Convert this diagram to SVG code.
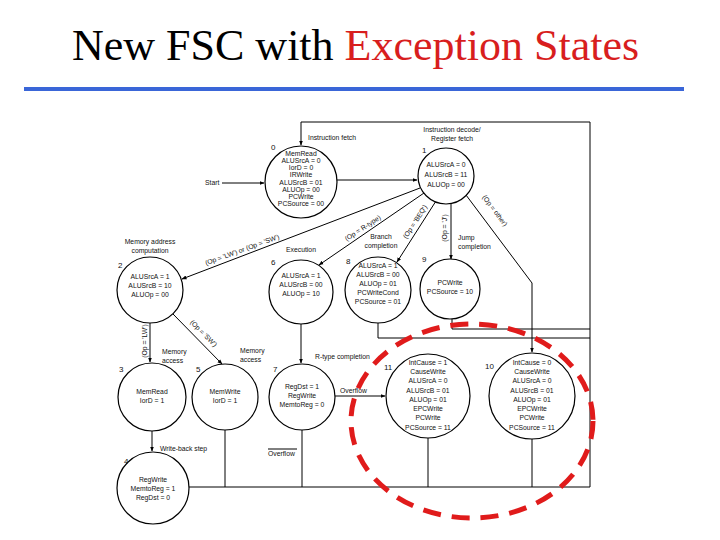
<svg xmlns="http://www.w3.org/2000/svg" width="720" height="540" viewBox="0 0 720 540">
<defs>
<marker id="ar" viewBox="0 0 10 10" refX="9" refY="5" markerWidth="5" markerHeight="5" orient="auto" markerUnits="userSpaceOnUse"><path d="M0,1 L10,5 L0,9 z" fill="#000"/></marker>
<style>
.st{fill:#fff;stroke:#000;stroke-width:1.2}
.t{font-family:"Liberation Sans",Arial,sans-serif;font-size:6.8px;fill:#111;text-anchor:middle}
.l{font-family:"Liberation Sans",Arial,sans-serif;font-size:6.8px;fill:#111}
.n{font-family:"Liberation Sans",Arial,sans-serif;font-size:8px;fill:#111}
.c{fill:none;stroke:#000;stroke-width:1}
.a{fill:none;stroke:#000;stroke-width:1;marker-end:url(#ar)}
</style>
</defs>
<rect width="720" height="540" fill="#fff"/>
<text x="72" y="60" font-family="'Liberation Serif','Times New Roman',serif" font-size="44" fill="#000">New FSC with <tspan fill="#d81e1e">Exception States</tspan></text>
<rect x="24" y="87" width="660" height="4" fill="#3a66d8"/>

<g id="connectors">
<path class="a" d="M222,183 L264,183"/>
<path class="a" d="M337,180 L417,180"/>
<path class="a" d="M590,487 L590,122 L301,122 L301,145"/>
<path class="a" d="M420,188 L182,279"/>
<path class="a" d="M424,193 L319,265"/>
<path class="a" d="M436,201 L397,262"/>
<path class="a" d="M451,203 L451,259"/>
<path class="a" d="M466,195 L532,283 L532,352"/>
<path class="a" d="M150,323 L150,362"/>
<path class="a" d="M173,314 L222,364"/>
<path class="a" d="M301,324 L301,363"/>
<path class="a" d="M152,431 L152,451"/>
<path class="a" d="M335,396 L385,396"/>
<path class="c" d="M225,430 L225,487"/>
<path class="c" d="M302,430 L302,487"/>
<path class="c" d="M189,487 L590,487"/>
<path class="c" d="M428,438 L428,487"/>
<path class="c" d="M532,439 L532,487"/>
<path class="c" d="M378,322 L378,338 L590,338"/>
<path class="c" d="M452,319 L452,329 L590,329"/>
<text class="l" x="205" y="185">Start</text>
<text class="l" x="308" y="140">Instruction fetch</text>
<text class="t" transform="translate(243,252) rotate(-20)">(Op = 'LW') or (Op = 'SW')</text>
<text class="t" transform="translate(364,230) rotate(-33)">(Op = R-type)</text>
<text class="t" transform="translate(417,223) rotate(-57)">(Op = 'BEQ')</text>
<text class="t" transform="translate(447,228) rotate(-90)">(Op = 'J')</text>
<text class="t" transform="translate(493,212) rotate(53)">(Op = other)</text>
<text class="t" transform="translate(147,341) rotate(-90)">(Op = 'LW')</text>
<text class="t" transform="translate(202,335) rotate(45)">(Op = 'SW')</text>
<text class="l" x="162" y="354">Memory</text>
<text class="l" x="162" y="363">access</text>
<text class="l" x="240" y="353">Memory</text>
<text class="l" x="240" y="362">access</text>
<text class="l" x="315" y="359">R-type completion</text>
<text class="l" x="340" y="393">Overflow</text>
<text class="l" x="268" y="456">Overflow</text>
<path class="c" d="M268,449 L297,449" stroke-width="0.7"/>
<text class="l" x="160" y="451">Write-back step</text>
</g>

<g id="s0">
<circle class="st" cx="301" cy="182" r="36"/>
<text class="n" x="271" y="150">0</text>
<text class="t" x="301" y="156">MemRead</text>
<text class="t" x="301" y="163">ALUSrcA = 0</text>
<text class="t" x="301" y="170">IorD = 0</text>
<text class="t" x="301" y="177">IRWrite</text>
<text class="t" x="301" y="185">ALUSrcB = 01</text>
<text class="t" x="301" y="192">ALUOp = 00</text>
<text class="t" x="301" y="199">PCWrite</text>
<text class="t" x="301" y="206">PCSource = 00</text>
</g>
<g id="s1">
<circle class="st" cx="446" cy="176" r="28"/>
<text class="n" x="422" y="153">1</text>
<text class="t" x="452" y="132">Instruction decode/</text>
<text class="t" x="452" y="141">Register fetch</text>
<text class="t" x="446" y="167">ALUSrcA = 0</text>
<text class="t" x="446" y="177">ALUSrcB = 11</text>
<text class="t" x="446" y="187">ALUOp = 00</text>
</g>
<g id="s2">
<circle class="st" cx="150" cy="290" r="33"/>
<text class="n" x="118" y="268">2</text>
<text class="t" x="150" y="244">Memory address</text>
<text class="t" x="150" y="253">computation</text>
<text class="t" x="150" y="279">ALUSrcA = 1</text>
<text class="t" x="150" y="288">ALUSrcB = 10</text>
<text class="t" x="150" y="297">ALUOp = 00</text>
</g>
<g id="s6">
<circle class="st" cx="301" cy="292" r="32"/>
<text class="n" x="271" y="265">6</text>
<text class="t" x="301" y="252">Execution</text>
<text class="t" x="301" y="278">ALUSrcA = 1</text>
<text class="t" x="301" y="287">ALUSrcB = 00</text>
<text class="t" x="301" y="296">ALUOp = 10</text>
</g>
<g id="s8">
<circle class="st" cx="378" cy="290" r="33"/>
<text class="n" x="346" y="264">8</text>
<text class="t" x="381" y="239">Branch</text>
<text class="t" x="381" y="248">completion</text>
<text class="t" x="378" y="268">ALUSrcA = 1</text>
<text class="t" x="378" y="277">ALUSrcB = 00</text>
<text class="t" x="378" y="286">ALUOp = 01</text>
<text class="t" x="378" y="295">PCWriteCond</text>
<text class="t" x="378" y="304">PCSource = 01</text>
</g>
<g id="s9">
<circle class="st" cx="450" cy="289" r="30"/>
<text class="n" x="422" y="262">9</text>
<text class="l" x="458" y="240">Jump</text>
<text class="l" x="458" y="249">completion</text>
<text class="t" x="450" y="285">PCWrite</text>
<text class="t" x="450" y="294">PCSource = 10</text>
</g>
<g id="s3">
<circle class="st" cx="152" cy="397" r="34"/>
<text class="n" x="119" y="372">3</text>
<text class="t" x="152" y="394">MemRead</text>
<text class="t" x="152" y="403">IorD = 1</text>
</g>
<g id="s5">
<circle class="st" cx="225" cy="397" r="33"/>
<text class="n" x="196" y="372">5</text>
<text class="t" x="225" y="394">MemWrite</text>
<text class="t" x="225" y="403">IorD = 1</text>
</g>
<g id="s7">
<circle class="st" cx="302" cy="397" r="33"/>
<text class="n" x="273" y="372">7</text>
<text class="t" x="302" y="389">RegDst = 1</text>
<text class="t" x="302" y="398">RegWrite</text>
<text class="t" x="302" y="407">MemtoReg = 0</text>
</g>
<g id="s4">
<circle class="st" cx="153" cy="488" r="36"/>
<text class="n" x="124" y="464">4</text>
<text class="t" x="153" y="482">RegWrite</text>
<text class="t" x="153" y="491">MemtoReg = 1</text>
<text class="t" x="153" y="500">RegDst = 0</text>
</g>
<g id="s11">
<circle class="st" cx="428" cy="396" r="42"/>
<text class="n" x="384" y="370">11</text>
<text class="t" x="428" y="365">IntCause = 1</text>
<text class="t" x="428" y="374">CauseWrite</text>
<text class="t" x="428" y="383">ALUSrcA = 0</text>
<text class="t" x="428" y="393">ALUSrcB = 01</text>
<text class="t" x="428" y="402">ALUOp = 01</text>
<text class="t" x="428" y="411">EPCWrite</text>
<text class="t" x="428" y="420">PCWrite</text>
<text class="t" x="428" y="430">PCSource = 11</text>
</g>
<g id="s10">
<circle class="st" cx="532" cy="396" r="43"/>
<text class="n" x="485" y="369">10</text>
<text class="t" x="532" y="365">IntCause = 0</text>
<text class="t" x="532" y="374">CauseWrite</text>
<text class="t" x="532" y="383">ALUSrcA = 0</text>
<text class="t" x="532" y="393">ALUSrcB = 01</text>
<text class="t" x="532" y="402">ALUOp = 01</text>
<text class="t" x="532" y="411">EPCWrite</text>
<text class="t" x="532" y="420">PCWrite</text>
<text class="t" x="532" y="430">PCSource = 11</text>
</g>
<ellipse cx="472" cy="421" rx="121" ry="97" fill="none" stroke="#e01b1b" stroke-width="5" stroke-dasharray="18 11"/>
</svg>
